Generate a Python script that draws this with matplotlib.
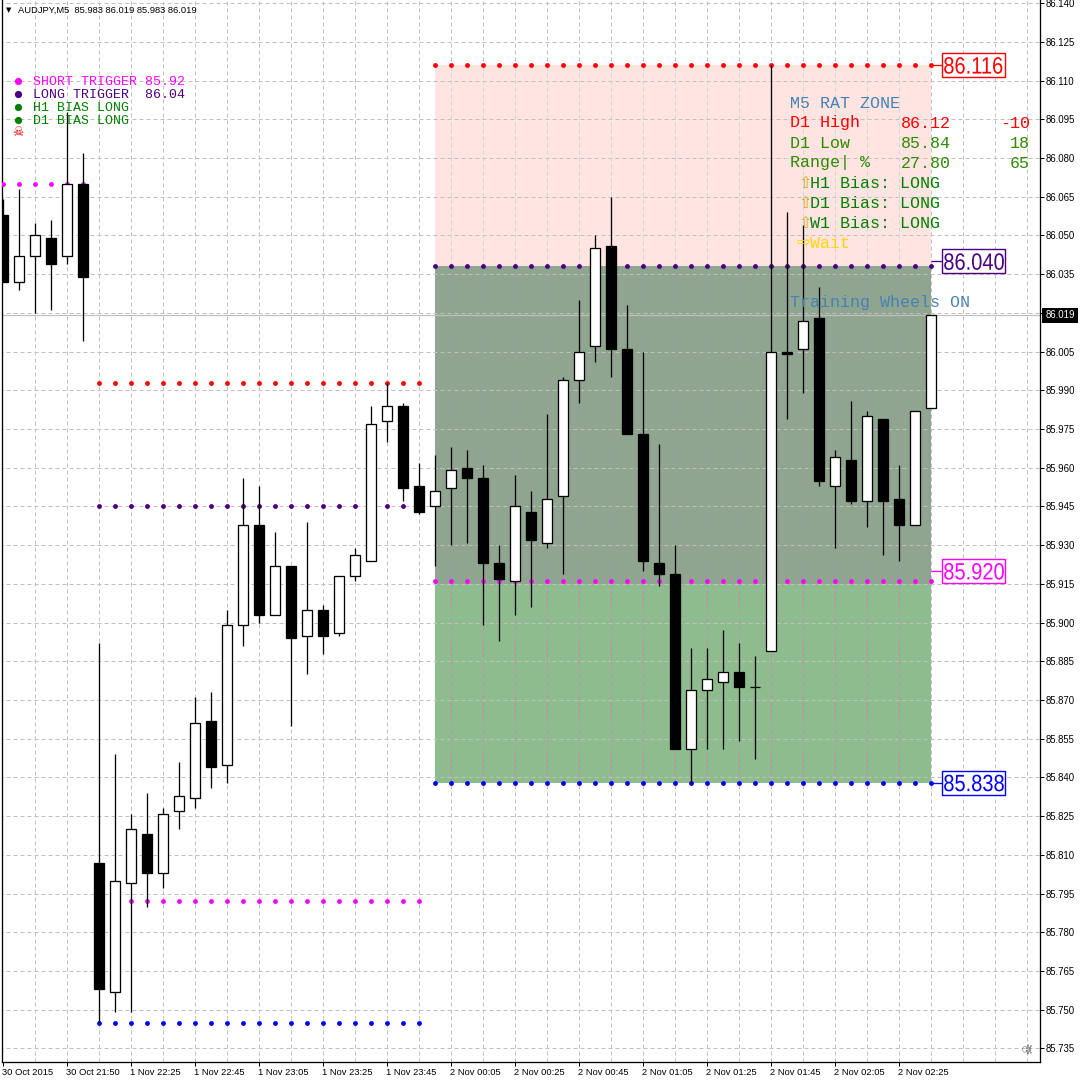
import matplotlib
matplotlib.use('Agg')
import matplotlib.pyplot as plt
from matplotlib.patches import Rectangle
from matplotlib.patheffects import AbstractPathEffect
from matplotlib.transforms import Affine2D

# one candle per list slot, prices
opens = [86.058, 86.032, 86.042, 86.049, 86.042, 86.070, 85.807, 85.757, 85.799, 85.818,
         85.803, 85.827, 85.832, 85.862, 85.845, 85.899, 85.938, 85.903, 85.922, 85.895,
         85.905, 85.896, 85.918, 85.924, 85.978, 85.984, 85.953, 85.945, 85.952, 85.960,
         85.956, 85.923, 85.916, 85.943, 85.931, 85.949, 85.994, 86.007, 86.046, 86.006,
         85.973, 85.923, 85.919, 85.851, 85.874, 85.877, 85.881, 85.875, 85.889, 86.005,
         86.006, 86.018, 85.953, 85.963, 85.947, 85.979, 85.948, 85.938, 85.983]
highs = [86.064, 86.068, 86.055, 86.056, 86.098, 86.082, 85.892, 85.849, 85.826, 85.834,
         85.828, 85.846, 85.871, 85.873, 85.905, 85.956, 85.953, 85.935, 85.922, 85.939,
         85.907, 85.918, 85.929, 85.984, 85.993, 85.985, 85.962, 85.965, 85.968, 85.967,
         85.961, 85.930, 85.957, 85.951, 85.981, 85.995, 86.025, 86.050, 86.065, 86.023,
         86.005, 85.969, 85.930, 85.890, 85.890, 85.897, 85.892, 85.887, 86.116, 86.059,
         86.054, 86.030, 85.967, 85.986, 85.982, 85.979, 85.961, 85.982, 86.019]
lows = [86.032, 86.029, 86.020, 86.021, 86.039, 86.009, 85.745, 85.749, 85.749, 85.790,
        85.797, 85.820, 85.828, 85.836, 85.838, 85.891, 85.900, 85.903, 85.860, 85.880,
        85.888, 85.895, 85.916, 85.924, 85.970, 85.947, 85.942, 85.922, 85.930, 85.931,
        85.899, 85.893, 85.903, 85.906, 85.929, 85.919, 85.985, 86.001, 85.995, 85.973,
        85.920, 85.914, 85.851, 85.838, 85.851, 85.851, 85.854, 85.847, 85.889, 85.979,
        85.989, 85.953, 85.929, 85.946, 85.937, 85.926, 85.924, 85.938, 85.983]
closes = [86.032, 86.042, 86.050, 86.039, 86.070, 86.034, 85.758, 85.800, 85.820, 85.803,
          85.826, 85.833, 85.861, 85.844, 85.899, 85.938, 85.903, 85.922, 85.894, 85.905,
          85.895, 85.918, 85.926, 85.977, 85.984, 85.952, 85.943, 85.951, 85.959, 85.956,
          85.923, 85.917, 85.945, 85.932, 85.948, 85.994, 86.005, 86.045, 86.006, 85.973,
          85.924, 85.919, 85.851, 85.874, 85.878, 85.881, 85.875, 85.875, 86.005, 86.004,
          86.017, 85.955, 85.964, 85.947, 85.980, 85.947, 85.938, 85.982, 86.019]

time_labels = ['30 Oct 2015', '30 Oct 21:50', '1 Nov 22:25', '1 Nov 22:45', '1 Nov 23:05',
               '1 Nov 23:25', '1 Nov 23:45', '2 Nov 00:05', '2 Nov 00:25', '2 Nov 00:45',
               '2 Nov 01:05', '2 Nov 01:25', '2 Nov 01:45', '2 Nov 02:05', '2 Nov 02:25']
price_ticks = [85.735 + 0.015 * k for k in range(28)]
bid = 86.019

# dotted levels: price, first bar, last bar, colour
level_prices = [86.070, 85.993, 85.945, 85.792, 85.745, 86.116, 86.038, 85.916, 85.838]
level_first = [0, 6, 6, 8, 6, 27, 27, 27, 27]
level_last = [5, 26, 26, 26, 26, 58, 58, 58, 58]
level_colors = ['#FF00FF', '#FF0000', '#4B0082', '#FF00FF', '#0000FF',
                '#FF0000', '#4B0082', '#FF00FF', '#0000FF']

zone_edges = [86.116, 86.038, 85.915, 85.838]
zone_colors = ['#FFE4E1', '#8FA590', '#8FBC8F']
zone_grid_colors = ['#C8D8D8', '#A39CA6', '#B98FB4']

box_prices = [86.116, 86.040, 85.920, 85.838]
box_colors = ['#FF0000', '#4B0082', '#FF00FF', '#0000FF']

legend_rows = ['SHORT TRIGGER 85.92', 'LONG TRIGGER  86.04', 'H1 BIAS LONG', 'D1 BIAS LONG']
legend_colors = ['#FF00FF', '#4B0082', '#008000', '#008000']

panel_rows = ['M5 RAT ZONE', 'D1 High', 'D1 Low', 'Range| %']
panel_colors = ['#4682B4', '#FF0000', '#2E8B00', '#2E8B00']
panel_values = ['', '86.12', '85.84', '27.80']
panel_pips = ['', '-10', '18', '65']
bias_rows = ['H1 Bias: LONG', 'D1 Bias: LONG', 'W1 Bias: LONG']

SIZE = 1080
MONO = ['Liberation Mono', 'DejaVu Sans Mono']
SANS = ['Liberation Sans', 'DejaVu Sans']
GRID = '#C0C0C0'
PX = 0.72


class Squeeze(AbstractPathEffect):
    # the big price labels are a tall narrow font, squeeze the glyphs sideways
    def __init__(self, factor):
        super().__init__()
        self.factor = factor

    def draw_path(self, renderer, gc, tpath, affine, rgbFace):
        renderer.draw_path(gc, tpath, Affine2D().scale(self.factor, 1) + affine, rgbFace)


def fig_text(x, y, s, **kw):
    kw.setdefault('va', 'center')
    fig.text(x / SIZE, 1 - y / SIZE, s, **kw)


fig = plt.figure(figsize=(10.8, 10.8), dpi=100)
ax = fig.add_axes([1.5 / SIZE, 1 - 1061.5 / SIZE, 1038 / SIZE, 1062 / SIZE])
ax.set_xlim(-0.0625, 64.8125)
ax.set_ylim(85.72996, 86.1414)

for side in ['left', 'right', 'bottom']:
    ax.spines[side].set_linewidth(PX * 1.3)
ax.spines['top'].set_visible(False)

# zones
for k in range(3):
    ax.fill_between([27, 58], zone_edges[k + 1], zone_edges[k], color=zone_colors[k], lw=0, zorder=1)

# grid, vertical lines change colour inside the zones
dash = (0, (4, 3))
ax.hlines(price_ticks, -1, 65, colors=GRID, lw=PX, linestyles=dash, zorder=2, snap=True)
grid_bars = list(range(2, 65, 2))
ax.vlines(grid_bars, 85.72996, 86.1414, colors=GRID, lw=PX, linestyles=dash, zorder=0.5, snap=True)
for k in range(3):
    inner = [b for b in grid_bars if 27 < b < 58]
    ax.vlines(inner, zone_edges[k + 1], zone_edges[k], colors=zone_grid_colors[k], lw=PX,
              linestyles=dash, zorder=2, snap=True)

ax.axhline(bid, color=GRID, lw=PX * 1.2, zorder=2.5)

# dotted levels
for price, first, last, colour in zip(level_prices, level_first, level_last, level_colors):
    bars = list(range(first, last + 1))
    ax.plot(bars, [price] * len(bars), ls='none', marker='o', ms=3.5, mew=0, color=colour, zorder=3)

# candles
bars = list(range(len(opens)))
ax.vlines(bars, lows, highs, colors='black', lw=PX * 1.3, zorder=4, snap=True)
bottoms = [min(o, c) for o, c in zip(opens, closes)]
heights = [abs(c - o) for o, c in zip(opens, closes)]
faces = ['white' if c >= o else 'black' for o, c in zip(opens, closes)]
ax.bar(bars, heights, bottom=bottoms, width=10 / 16, color=faces, edgecolor='black',
       linewidth=PX * 1.3, zorder=5)

# price boxes on the right of the zone
for price, colour in zip(box_prices, box_colors):
    ax.hlines(price, 58, 58.69, colors=colour, lw=PX * 1.3, zorder=6, snap=True)
    ax.add_patch(Rectangle((58.69, price - 0.0046), 3.94, 0.0092, fc='white', ec=colour,
                           lw=PX * 1.4, zorder=6))
    ax.text(58.8, price, '%.3f' % price, color=colour, ha='left', va='center_baseline',
            family=SANS, fontsize=17, zorder=7, path_effects=[Squeeze(0.85)])

# axes ticks
ax.yaxis.tick_right()
ax.set_yticks(price_ticks)
ax.set_yticklabels(['' if abs(p - 86.02) < 0.0005 else '%.3f' % p for p in price_ticks],
                   family=SANS, fontsize=6.9)
ax.tick_params(axis='y', length=3, width=PX, pad=1.5)
ax.set_xticks(list(range(0, 57, 4)))
ax.set_xticklabels(time_labels, family=SANS, fontsize=6.75, ha='left')
ax.tick_params(axis='x', length=3, width=PX, pad=1.5)

# current price box
ax.text(1.0055, bid, '%.3f' % bid, transform=ax.get_yaxis_transform(), color='white', family=SANS,
        fontsize=6.9, va='center', ha='left', zorder=10, clip_on=False,
        bbox=dict(boxstyle='square,pad=0.3', fc='black', ec='black', lw=0))

# header
fig_text(9, 10, '\u25bc', family=['DejaVu Sans'], fontsize=5, ha='center')
fig_text(18.5, 10, 'AUDJPY,M5  85.983 86.019 85.983 86.019', family=SANS, fontsize=6.75)

# top left legend
legend_dots = [81, 94, 107, 120]
for y, row, colour in zip(legend_dots, legend_rows, legend_colors):
    fig.add_artist(plt.Line2D([18 / SIZE], [1 - y / SIZE], marker='o', ms=5.2, mew=0, color=colour, ls='none'))
    fig_text(33, y + 1, row, color=colour, family=MONO, fontsize=9.55)
fig_text(18, 132, '\u2620', color='#FF0000', family=['DejaVu Sans'], fontsize=9, ha='center')

# zone panel
for k in range(4):
    y = 103 + 20 * k
    fig_text(790, y, panel_rows[k], color=panel_colors[k], family=MONO, fontsize=12)
    if panel_values[k]:
        fig_text(900.5, y, panel_values[k], color=panel_colors[k], family=MONO, fontsize=12)
        fig_text(1030, y, panel_pips[k], color=panel_colors[k], family=MONO, fontsize=12, ha='right')
for k in range(3):
    y = 183 + 20 * k
    fig_text(804.5, y, '\u21e7', color='#DAA520', family=['DejaVu Sans'], fontsize=11.5, ha='center')
    fig_text(810, y, bias_rows[k], color='#008000', family=MONO, fontsize=12)
fig_text(803, 242, '\u21e8', color='#FFD700', family=['DejaVu Sans'], fontsize=11.5, ha='center')
fig_text(810, 243, 'Wait', color='#FFD700', family=MONO, fontsize=12)
fig_text(790, 303, 'Training Wheels ON', color='#4682B4', family=MONO, fontsize=12)

# bottom right skull
fig_text(1029, 1048, '\u2620', color='#505050', family=['DejaVu Sans'], fontsize=9, ha='center', rotation=90)

fig.savefig('out.png', dpi=100, facecolor='white')
